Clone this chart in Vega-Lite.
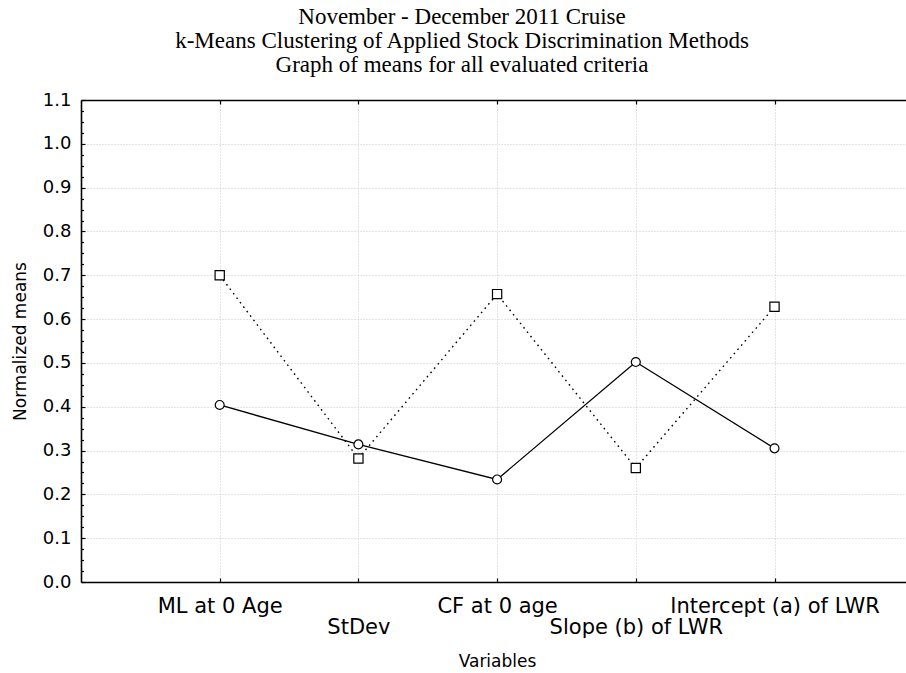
{
  "$schema": "https://vega.github.io/schema/vega-lite/v6.json",
  "autosize": {"type": "none"},
  "padding": {"left": 81, "top": 100, "right": 0, "bottom": 91},
  "width": 825,
  "height": 482,
  "background": "white",
  "title": {
    "text": [
      "November - December 2011 Cruise",
      "k-Means Clustering of Applied Stock Discrimination Methods",
      "Graph of means for all evaluated criteria"
    ],
    "font": "Liberation Serif",
    "fontSize": 23,
    "fontWeight": "normal",
    "color": "black",
    "lineHeight": 24,
    "anchor": "middle",
    "frame": "group",
    "dx": -31.5,
    "baseline": "bottom",
    "offset": -9
  },
  "config": {
    "view": {"stroke": null},
    "axis": {
      "labelFont": "DejaVu Sans",
      "titleFont": "DejaVu Sans",
      "labelColor": "black",
      "titleColor": "black",
      "titleFontWeight": "normal",
      "domainColor": "black",
      "tickColor": "black",
      "labelFlush": false,
      "labelOverlap": false,
      "labelLimit": 0
    }
  },
  "data": {
    "values": [
      {"variable": "ML at 0 Age", "pos": 1, "cluster": "1", "mean": 0.404},
      {"variable": "StDev", "pos": 2, "cluster": "1", "mean": 0.314},
      {"variable": "CF at 0 age", "pos": 3, "cluster": "1", "mean": 0.234},
      {"variable": "Slope (b) of LWR", "pos": 4, "cluster": "1", "mean": 0.502},
      {"variable": "Intercept (a) of LWR", "pos": 5, "cluster": "1", "mean": 0.305},
      {"variable": "ML at 0 Age", "pos": 1, "cluster": "2", "mean": 0.700},
      {"variable": "StDev", "pos": 2, "cluster": "2", "mean": 0.282},
      {"variable": "CF at 0 age", "pos": 3, "cluster": "2", "mean": 0.657},
      {"variable": "Slope (b) of LWR", "pos": 4, "cluster": "2", "mean": 0.260},
      {"variable": "Intercept (a) of LWR", "pos": 5, "cluster": "2", "mean": 0.628}
    ]
  },
  "layer": [
    {
      "transform": [{"filter": "datum.cluster == '1'"}],
      "mark": {"type": "line", "color": "black", "strokeWidth": 1.3},
      "encoding": {
        "x": {
          "field": "pos", "type": "quantitative",
          "scale": {"domain": [0, 5.948], "nice": false, "zero": false},
          "axis": {
            "orient": "bottom",
            "values": [1, 2, 3, 4, 5],
            "labelExpr": "datum.value == 1 ? 'ML at 0 Age' : datum.value == 3 ? 'CF at 0 age' : datum.value == 5 ? 'Intercept (a) of LWR' : ''",
            "labelFontSize": 21,
            "labelBaseline": "alphabetic",
            "labelPadding": 30,
            "ticks": false,
            "tickSize": 0,
            "grid": true,
            "gridColor": "#c8c8c8",
            "gridDash": [1, 2],
            "gridWidth": 1,
            "domain": true,
            "domainWidth": 1.6,
            "title": "Variables",
            "titleFontSize": 17,
            "titleX": 416,
            "titleY": 84,
            "titleAlign": "center",
            "titleBaseline": "alphabetic"
          }
        },
        "y": {
          "field": "mean", "type": "quantitative",
          "scale": {"domain": [0, 1.1], "nice": false, "zero": false},
          "axis": {
            "orient": "left",
            "values": [0, 0.1, 0.2, 0.3, 0.4, 0.5, 0.6, 0.7, 0.8, 0.9, 1.0, 1.1],
            "format": ".1f",
            "labelFontSize": 18,
            "labelPadding": 10,
            "ticks": false,
            "tickSize": 0,
            "grid": true,
            "gridColor": "#c8c8c8",
            "gridDash": [1, 2],
            "gridWidth": 1,
            "domain": true,
            "domainWidth": 1.6,
            "title": "Normalized means",
            "titleFontSize": 17,
            "titleAngle": -90,
            "titleX": -61,
            "titleY": 241,
            "titleAlign": "center",
            "titleBaseline": "middle"
          }
        }
      }
    },
    {
      "transform": [{"filter": "datum.cluster == '2'"}],
      "mark": {"type": "line", "color": "black", "strokeWidth": 1.4, "strokeDash": [1.6, 4]},
      "encoding": {
        "x": {
          "field": "pos", "type": "quantitative",
          "scale": {"domain": [0, 5.948], "nice": false, "zero": false},
          "axis": {
            "orient": "bottom",
            "values": [2, 4],
            "labelExpr": "datum.value == 2 ? 'StDev' : datum.value == 4 ? 'Slope (b) of LWR' : ''",
            "labelFontSize": 21,
            "labelBaseline": "alphabetic",
            "labelPadding": 51,
            "ticks": false,
            "tickSize": 0,
            "grid": false,
            "domain": false,
            "title": null
          }
        },
        "y": {
          "field": "mean", "type": "quantitative",
          "scale": {"domain": [0, 1.1], "nice": false, "zero": false},
          "axis": {
            "orient": "left",
            "values": [0.025, 0.05, 0.075, 0.125, 0.15, 0.175, 0.225, 0.25, 0.275, 0.325, 0.35, 0.375, 0.425, 0.45, 0.475, 0.525, 0.55, 0.575, 0.625, 0.65, 0.675, 0.725, 0.75, 0.775, 0.825, 0.85, 0.875, 0.925, 0.95, 0.975, 1.025, 1.05, 1.075],
            "labels": false,
            "ticks": true,
            "tickSize": -2.5,
            "tickWidth": 1.2,
            "grid": false,
            "domain": false,
            "title": null
          }
        }
      }
    },
    {
      "transform": [{"filter": "datum.cluster == '1'"}],
      "mark": {"type": "point", "shape": "circle", "filled": true, "fill": "white", "stroke": "black", "strokeWidth": 1.2, "size": 80, "opacity": 1},
      "encoding": {
        "x": {
          "field": "pos", "type": "quantitative",
          "scale": {"domain": [0, 5.948], "nice": false, "zero": false},
          "axis": {
            "orient": "bottom",
            "values": [1, 2, 3, 4, 5],
            "labels": false,
            "ticks": true,
            "tickSize": -4,
            "tickWidth": 1.2,
            "grid": false,
            "domain": false,
            "title": null
          }
        },
        "y": {
          "field": "mean", "type": "quantitative",
          "scale": {"domain": [0, 1.1], "nice": false, "zero": false},
          "axis": {
            "orient": "left",
            "values": [0, 0.1, 0.2, 0.3, 0.4, 0.5, 0.6, 0.7, 0.8, 0.9, 1.0, 1.1],
            "labels": false,
            "ticks": true,
            "tickSize": -4,
            "tickWidth": 1.2,
            "grid": false,
            "domain": false,
            "title": null
          }
        }
      }
    },
    {
      "transform": [{"filter": "datum.cluster == '2'"}],
      "mark": {"type": "point", "shape": "square", "filled": true, "fill": "white", "stroke": "black", "strokeWidth": 1.2, "size": 85, "opacity": 1},
      "encoding": {
        "x": {
          "field": "pos", "type": "quantitative",
          "scale": {"domain": [0, 5.948], "nice": false, "zero": false},
          "axis": {
            "orient": "top",
            "values": [1, 2, 3, 4, 5],
            "labels": false,
            "ticks": true,
            "tickSize": -4,
            "tickWidth": 1.2,
            "grid": false,
            "domain": true,
            "domainWidth": 1.6,
            "title": null
          }
        },
        "y": {
          "field": "mean", "type": "quantitative",
          "scale": {"domain": [0, 1.1], "nice": false, "zero": false},
          "axis": null
        }
      }
    }
  ],
  "resolve": {"axis": {"x": "independent", "y": "independent"}}
}
